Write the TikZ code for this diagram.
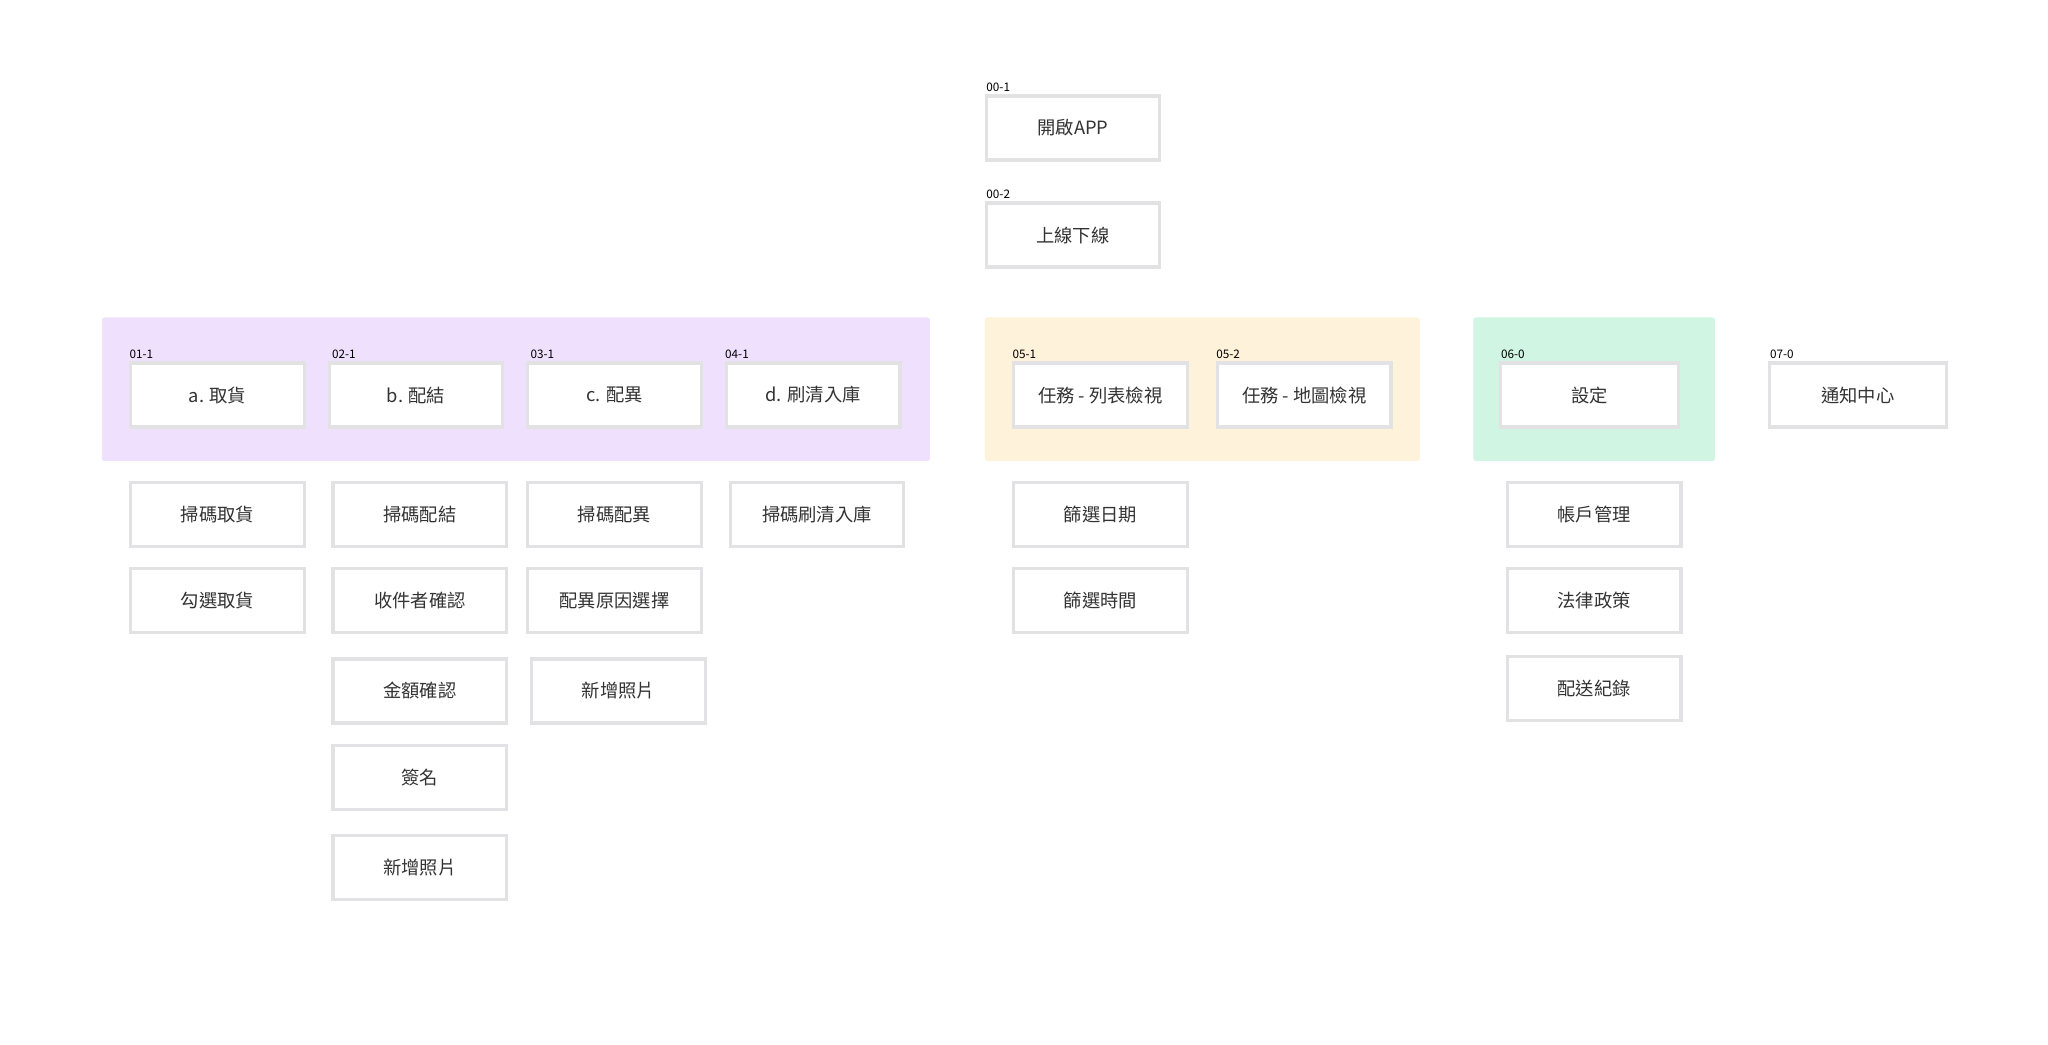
\documentclass[tikz,border=0pt]{standalone}
\usepackage{fontspec}
\setmainfont{Noto Sans CJK TC}
\begin{document}
\begin{tikzpicture}[x=1pt,y=-1pt,
  bx/.style={draw=boxgray,line width=2.5pt,fill=white,minimum width=133pt,minimum height=49pt,inner sep=0pt,font=\fontsize{14}{16}\selectfont,text=txt},
  lb/.style={anchor=south west,inner sep=0pt,font=\fontsize{9}{10}\selectfont},
  grp/.style={rounded corners=2pt,draw=none}]
\definecolor{boxgray}{HTML}{E2E2E4}\definecolor{txt}{HTML}{333333}
\definecolor{pur}{HTML}{EFE1FD}\definecolor{yel}{HTML}{FFF2DA}\definecolor{grn}{HTML}{D1F5E3}
\useasboundingbox[fill=white] (0,0) rectangle (1568,799.4);
\fill[pur,grp] (78,243) rectangle (712,353);
\fill[yel,grp] (754,243) rectangle (1087,353);
\fill[grn,grp] (1128,243) rectangle (1313,353);
\newcommand{\bxat}[4]{\node[bx,minimum width=#3pt] (#1) at (#2) {#4};}
\bxat{n001}{821.5,98}{133}{開啟APP}
\bxat{n002}{821.5,180}{133}{上線下線}
\node[lb] (l001) at (755,70) {00-1};
\node[lb] (l002) at (755,152) {00-2};
\bxat{a}{166.5,302.5}{133}{a. 取貨}
\bxat{b}{318.5,302.5}{133}{b. 配結}
\bxat{c}{470.5,302.5}{133}{c. 配異}
\bxat{d}{622.5,302.5}{133}{d. 刷清入庫}
\bxat{e}{842.5,302.5}{133}{任務 - 列表檢視}
\bxat{f}{998.5,302.5}{133}{任務 - 地圖檢視}
\bxat{g}{1217,302.5}{136}{設定}
\bxat{h}{1422.5,302.5}{135}{通知中心}
\node[lb] (la) at (99,275) {01-1};
\node[lb] (lb2) at (254,275) {02-1};
\node[lb] (lc) at (406,275) {03-1};
\node[lb] (ld) at (555,275) {04-1};
\node[lb] (le) at (775,275) {05-1};
\node[lb] (lf) at (931,275) {05-2};
\node[lb] (lg) at (1149,275) {06-0};
\node[lb] (lh) at (1355,275) {07-0};
\bxat{a1}{166.5,394}{133}{掃碼取貨}
\bxat{a2}{166.5,460}{133}{勾選取貨}
\bxat{b1}{321.5,394}{133}{掃碼配結}
\bxat{b2}{321.5,460}{133}{收件者確認}
\bxat{b3}{321.5,529}{133}{金額確認}
\bxat{b4}{321.5,595}{133}{簽名}
\bxat{b5}{321.5,664}{133}{新增照片}
\bxat{c1}{470.5,394}{133}{掃碼配異}
\bxat{c2}{470.5,460}{133}{配異原因選擇}
\bxat{c3}{473.5,529}{133}{新增照片}
\bxat{d1}{625.5,394}{133}{掃碼刷清入庫}
\bxat{e1}{842.5,394}{133}{篩選日期}
\bxat{e2}{842.5,460}{133}{篩選時間}
\bxat{g1}{1220.5,394}{133}{帳戶管理}
\bxat{g2}{1220.5,460}{133}{法律政策}
\bxat{g3}{1220.5,527}{133}{配送紀錄}
\end{tikzpicture}
\end{document}
